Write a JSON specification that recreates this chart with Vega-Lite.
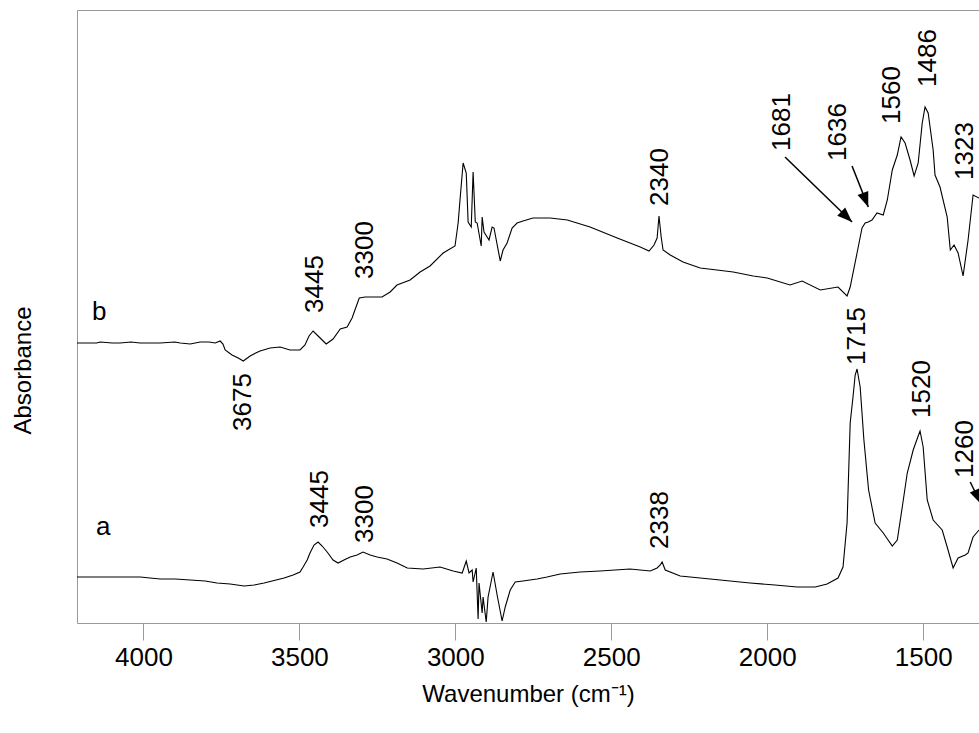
{
  "$schema": "https://vega.github.io/schema/vega-lite/v6.json",
  "width": 902,
  "height": 613,
  "autosize": {"type": "none"},
  "padding": {"left": 77, "top": 10, "right": 0, "bottom": 110},
  "background": "white",
  "config": {"view": {"stroke": null}, "font": "Liberation Sans"},
  "datasets": {
    "spectra": [
      {"series":"b","wn":4213,"abs":280},{"series":"b","wn":4150,"abs":280},{"series":"b","wn":4139,"abs":281},{"series":"b","wn":4100,"abs":280},{"series":"b","wn":4075,"abs":280},{"series":"b","wn":4040,"abs":281},{"series":"b","wn":4011,"abs":280},{"series":"b","wn":3980,"abs":280},{"series":"b","wn":3946,"abs":280},{"series":"b","wn":3900,"abs":281},{"series":"b","wn":3882,"abs":280},{"series":"b","wn":3850,"abs":279},{"series":"b","wn":3818,"abs":281},{"series":"b","wn":3790,"abs":281},{"series":"b","wn":3770,"abs":280},{"series":"b","wn":3754,"abs":282},{"series":"b","wn":3745,"abs":279},{"series":"b","wn":3738,"abs":273},{"series":"b","wn":3716,"abs":268},{"series":"b","wn":3696,"abs":265},{"series":"b","wn":3680,"abs":262},{"series":"b","wn":3658,"abs":267},{"series":"b","wn":3640,"abs":270},{"series":"b","wn":3626,"abs":272},{"series":"b","wn":3594,"abs":275},{"series":"b","wn":3562,"abs":276},{"series":"b","wn":3530,"abs":273},{"series":"b","wn":3498,"abs":273},{"series":"b","wn":3482,"abs":278},{"series":"b","wn":3469,"abs":287},{"series":"b","wn":3456,"abs":292},{"series":"b","wn":3440,"abs":287},{"series":"b","wn":3414,"abs":279},{"series":"b","wn":3392,"abs":284},{"series":"b","wn":3369,"abs":294},{"series":"b","wn":3347,"abs":296},{"series":"b","wn":3331,"abs":305},{"series":"b","wn":3308,"abs":325},{"series":"b","wn":3289,"abs":326},{"series":"b","wn":3260,"abs":326},{"series":"b","wn":3235,"abs":326},{"series":"b","wn":3209,"abs":331},{"series":"b","wn":3187,"abs":338},{"series":"b","wn":3145,"abs":343},{"series":"b","wn":3113,"abs":351},{"series":"b","wn":3081,"abs":357},{"series":"b","wn":3039,"abs":370},{"series":"b","wn":3001,"abs":377},{"series":"b","wn":2991,"abs":400},{"series":"b","wn":2985,"abs":423},{"series":"b","wn":2975,"abs":460},{"series":"b","wn":2965,"abs":450},{"series":"b","wn":2959,"abs":401},{"series":"b","wn":2949,"abs":396},{"series":"b","wn":2943,"abs":451},{"series":"b","wn":2936,"abs":401},{"series":"b","wn":2930,"abs":400},{"series":"b","wn":2917,"abs":377},{"series":"b","wn":2914,"abs":406},{"series":"b","wn":2908,"abs":391},{"series":"b","wn":2898,"abs":386},{"series":"b","wn":2892,"abs":383},{"series":"b","wn":2882,"abs":396},{"series":"b","wn":2876,"abs":395},{"series":"b","wn":2856,"abs":362},{"series":"b","wn":2847,"abs":373},{"series":"b","wn":2834,"abs":380},{"series":"b","wn":2818,"abs":395},{"series":"b","wn":2802,"abs":400},{"series":"b","wn":2783,"abs":402},{"series":"b","wn":2751,"abs":405},{"series":"b","wn":2696,"abs":405},{"series":"b","wn":2641,"abs":403},{"series":"b","wn":2568,"abs":396},{"series":"b","wn":2481,"abs":385},{"series":"b","wn":2407,"abs":376},{"series":"b","wn":2379,"abs":372},{"series":"b","wn":2363,"abs":378},{"series":"b","wn":2353,"abs":385},{"series":"b","wn":2347,"abs":407},{"series":"b","wn":2340,"abs":386},{"series":"b","wn":2334,"abs":373},{"series":"b","wn":2311,"abs":368},{"series":"b","wn":2270,"abs":361},{"series":"b","wn":2215,"abs":355},{"series":"b","wn":2161,"abs":353},{"series":"b","wn":2109,"abs":351},{"series":"b","wn":2045,"abs":347},{"series":"b","wn":2000,"abs":345},{"series":"b","wn":1927,"abs":338},{"series":"b","wn":1888,"abs":342},{"series":"b","wn":1830,"abs":333},{"series":"b","wn":1773,"abs":336},{"series":"b","wn":1744,"abs":327},{"series":"b","wn":1734,"abs":336},{"series":"b","wn":1712,"abs":370},{"series":"b","wn":1696,"abs":395},{"series":"b","wn":1686,"abs":400},{"series":"b","wn":1676,"abs":401},{"series":"b","wn":1664,"abs":403},{"series":"b","wn":1648,"abs":410},{"series":"b","wn":1628,"abs":408},{"series":"b","wn":1615,"abs":423},{"series":"b","wn":1599,"abs":453},{"series":"b","wn":1583,"abs":468},{"series":"b","wn":1571,"abs":486},{"series":"b","wn":1558,"abs":480},{"series":"b","wn":1542,"abs":463},{"series":"b","wn":1529,"abs":447},{"series":"b","wn":1516,"abs":460},{"series":"b","wn":1503,"abs":500},{"series":"b","wn":1494,"abs":516},{"series":"b","wn":1484,"abs":510},{"series":"b","wn":1468,"abs":473},{"series":"b","wn":1462,"abs":448},{"series":"b","wn":1446,"abs":436},{"series":"b","wn":1423,"abs":406},{"series":"b","wn":1413,"abs":373},{"series":"b","wn":1401,"abs":378},{"series":"b","wn":1388,"abs":370},{"series":"b","wn":1372,"abs":347},{"series":"b","wn":1356,"abs":383},{"series":"b","wn":1340,"abs":428},{"series":"b","wn":1321,"abs":425},
      {"series":"a","wn":4213,"abs":46},{"series":"a","wn":4139,"abs":46},{"series":"a","wn":4090,"abs":46},{"series":"a","wn":4043,"abs":46},{"series":"a","wn":4010,"abs":46},{"series":"a","wn":3979,"abs":45},{"series":"a","wn":3946,"abs":44},{"series":"a","wn":3898,"abs":44},{"series":"a","wn":3850,"abs":43},{"series":"a","wn":3802,"abs":42},{"series":"a","wn":3764,"abs":40},{"series":"a","wn":3722,"abs":39},{"series":"a","wn":3677,"abs":37},{"series":"a","wn":3645,"abs":38},{"series":"a","wn":3613,"abs":40},{"series":"a","wn":3549,"abs":45},{"series":"a","wn":3520,"abs":48},{"series":"a","wn":3498,"abs":51},{"series":"a","wn":3488,"abs":56},{"series":"a","wn":3475,"abs":63},{"series":"a","wn":3466,"abs":70},{"series":"a","wn":3453,"abs":78},{"series":"a","wn":3440,"abs":81},{"series":"a","wn":3427,"abs":77},{"series":"a","wn":3411,"abs":71},{"series":"a","wn":3392,"abs":63},{"series":"a","wn":3376,"abs":60},{"series":"a","wn":3357,"abs":63},{"series":"a","wn":3337,"abs":66},{"series":"a","wn":3315,"abs":68},{"series":"a","wn":3296,"abs":71},{"series":"a","wn":3273,"abs":68},{"series":"a","wn":3251,"abs":66},{"series":"a","wn":3219,"abs":64},{"series":"a","wn":3187,"abs":60},{"series":"a","wn":3154,"abs":55},{"series":"a","wn":3103,"abs":54},{"series":"a","wn":3049,"abs":56},{"series":"a","wn":3007,"abs":52},{"series":"a","wn":2978,"abs":50},{"series":"a","wn":2965,"abs":62},{"series":"a","wn":2956,"abs":50},{"series":"a","wn":2946,"abs":53},{"series":"a","wn":2943,"abs":41},{"series":"a","wn":2933,"abs":55},{"series":"a","wn":2927,"abs":4},{"series":"a","wn":2924,"abs":40},{"series":"a","wn":2914,"abs":10},{"series":"a","wn":2911,"abs":26},{"series":"a","wn":2901,"abs":1},{"series":"a","wn":2895,"abs":26},{"series":"a","wn":2879,"abs":51},{"series":"a","wn":2866,"abs":28},{"series":"a","wn":2850,"abs":2},{"series":"a","wn":2840,"abs":16},{"series":"a","wn":2824,"abs":33},{"series":"a","wn":2808,"abs":41},{"series":"a","wn":2783,"abs":42},{"series":"a","wn":2738,"abs":44},{"series":"a","wn":2706,"abs":46},{"series":"a","wn":2664,"abs":49},{"series":"a","wn":2600,"abs":51},{"series":"a","wn":2536,"abs":52},{"series":"a","wn":2440,"abs":54},{"series":"a","wn":2375,"abs":52},{"series":"a","wn":2353,"abs":55},{"series":"a","wn":2343,"abs":58},{"series":"a","wn":2337,"abs":61},{"series":"a","wn":2327,"abs":53},{"series":"a","wn":2279,"abs":47},{"series":"a","wn":2215,"abs":45},{"series":"a","wn":2151,"abs":43},{"series":"a","wn":2055,"abs":40},{"series":"a","wn":1975,"abs":38},{"series":"a","wn":1904,"abs":36},{"series":"a","wn":1846,"abs":36},{"series":"a","wn":1808,"abs":39},{"series":"a","wn":1773,"abs":45},{"series":"a","wn":1757,"abs":56},{"series":"a","wn":1744,"abs":100},{"series":"a","wn":1734,"abs":200},{"series":"a","wn":1725,"abs":226},{"series":"a","wn":1718,"abs":248},{"series":"a","wn":1712,"abs":254},{"series":"a","wn":1702,"abs":236},{"series":"a","wn":1690,"abs":183},{"series":"a","wn":1675,"abs":133},{"series":"a","wn":1654,"abs":100},{"series":"a","wn":1628,"abs":90},{"series":"a","wn":1599,"abs":77},{"series":"a","wn":1583,"abs":83},{"series":"a","wn":1567,"abs":116},{"series":"a","wn":1551,"abs":150},{"series":"a","wn":1532,"abs":173},{"series":"a","wn":1516,"abs":187},{"series":"a","wn":1510,"abs":192},{"series":"a","wn":1500,"abs":176},{"series":"a","wn":1487,"abs":123},{"series":"a","wn":1468,"abs":103},{"series":"a","wn":1439,"abs":93},{"series":"a","wn":1423,"abs":76},{"series":"a","wn":1404,"abs":55},{"series":"a","wn":1388,"abs":65},{"series":"a","wn":1365,"abs":68},{"series":"a","wn":1356,"abs":70},{"series":"a","wn":1340,"abs":86},{"series":"a","wn":1321,"abs":93}
    ],
    "peaks": [
      {"label":"3675","wn":3680,"abs":221},
      {"label":"3445","wn":3449,"abs":339},
      {"label":"3300","wn":3289,"abs":373},
      {"label":"2340","wn":2343,"abs":446},
      {"label":"1681","wn":1952,"abs":501},
      {"label":"1636","wn":1773,"abs":491},
      {"label":"1560","wn":1599,"abs":528},
      {"label":"1486","wn":1484,"abs":565},
      {"label":"1323","wn":1367,"abs":472},
      {"label":"1715","wn":1712,"abs":287},
      {"label":"1520","wn":1503,"abs":234},
      {"label":"1260","wn":1367,"abs":174},
      {"label":"3445","wn":3433,"abs":124},
      {"label":"3300","wn":3289,"abs":109},
      {"label":"2338","wn":2343,"abs":103}
    ],
    "names": [
      {"label":"b","wn":4142,"abs":303},
      {"label":"a","wn":4129,"abs":88}
    ],
    "arrows": [
      {"peak":"1681","wn":1943,"abs":466,"wn2":1728,"abs2":401,"ang":134},
      {"peak":"1636","wn":1728,"abs":457,"wn2":1676,"abs2":416,"ang":159},
      {"peak":"1260","wn":1349,"abs":141,"wn2":1315,"abs2":119,"ang":157}
    ]
  },
  "resolve": {"axis": {"x": "independent", "y": "independent"}},
  "layer": [
    {
      "data": {"name": "spectra"},
      "mark": {"type": "line", "color": "black", "strokeWidth": 1.1, "clip": true},
      "encoding": {
        "x": {"field": "wn", "type": "quantitative",
          "scale": {"domain": [1321, 4213], "reverse": true, "nice": false, "zero": false},
          "axis": {"orient": "bottom", "title": "Wavenumber (cm⁻¹)", "values": [4000, 3500, 3000, 2500, 2000, 1500], "format": "d", "grid": false,
            "domainColor": "#999", "tickColor": "#999", "tickSize": 17, "labelFontSize": 26, "labelColor": "black", "labelPadding": 4,
            "titleFontSize": 24, "titleFontWeight": "normal", "titleColor": "black", "titlePadding": 12}},
        "y": {"field": "abs", "type": "quantitative",
          "scale": {"domain": [0, 613], "nice": false, "zero": false},
          "axis": {"title": "Absorbance", "labels": false, "ticks": false, "grid": false, "domainColor": "#999",
            "titleFontSize": 24, "titleFontWeight": "normal", "titleColor": "black", "titleX": -54, "titleY": 360, "titleAngle": 270, "titleAlign": "center", "titleBaseline": "middle"}},
        "detail": {"field": "series"}
      }
    },
    {
      "data": {"name": "peaks"},
      "mark": {"type": "text", "angle": 270, "align": "center", "baseline": "middle", "fontSize": 26, "color": "black"},
      "encoding": {
        "x": {"field": "wn", "type": "quantitative",
          "axis": {"orient": "top", "labels": false, "ticks": false, "title": null, "grid": false, "domainColor": "#999"}},
        "y": {"field": "abs", "type": "quantitative", "axis": null},
        "text": {"field": "label"}
      }
    },
    {
      "data": {"name": "names"},
      "mark": {"type": "text", "align": "center", "baseline": "alphabetic", "fontSize": 26, "color": "black"},
      "encoding": {
        "x": {"field": "wn", "type": "quantitative", "axis": null},
        "y": {"field": "abs", "type": "quantitative", "axis": null},
        "text": {"field": "label"}
      }
    },
    {
      "data": {"name": "arrows"},
      "mark": {"type": "rule", "color": "black", "strokeWidth": 1.5, "clip": true},
      "encoding": {
        "x": {"field": "wn", "type": "quantitative", "axis": null},
        "y": {"field": "abs", "type": "quantitative", "axis": null},
        "x2": {"field": "wn2"},
        "y2": {"field": "abs2"}
      }
    },
    {
      "data": {"name": "arrows"},
      "mark": {"type": "point", "shape": "M0,0L-0.38,1L0.38,1Z", "filled": true, "color": "black", "opacity": 1, "size": 900, "clip": true},
      "encoding": {
        "x": {"field": "wn2", "type": "quantitative", "axis": null},
        "y": {"field": "abs2", "type": "quantitative", "axis": null},
        "angle": {"field": "ang", "type": "quantitative", "scale": null}
      }
    }
  ]
}
